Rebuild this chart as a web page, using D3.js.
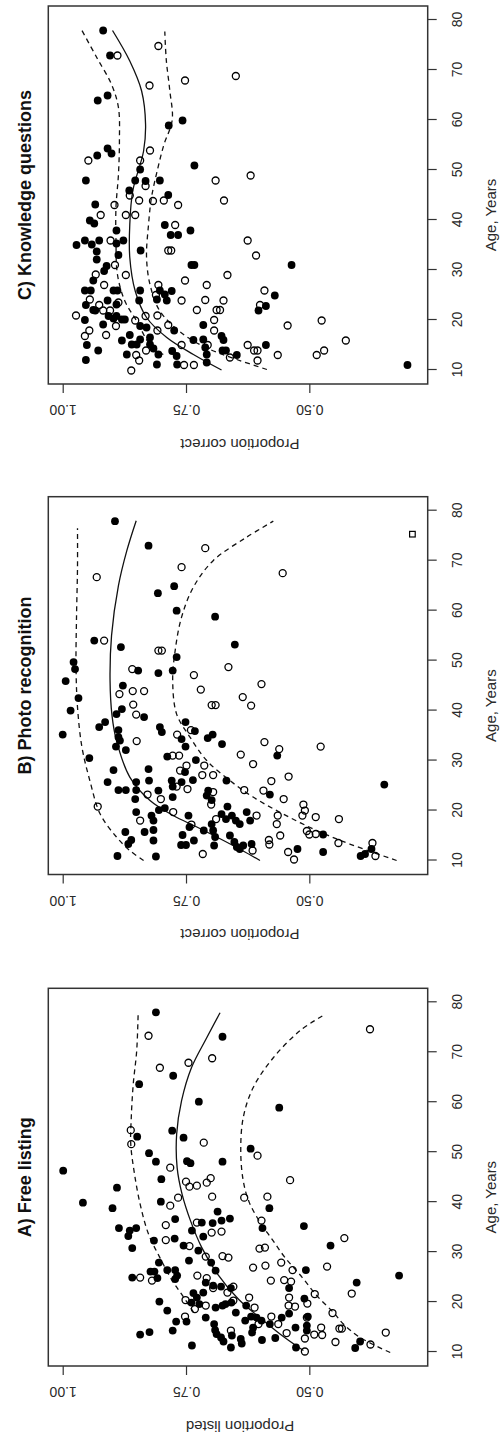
<!DOCTYPE html>
<html><head><meta charset="utf-8">
<script src="https://cdn.jsdelivr.net/npm/d3@7"></script>
<style>body{margin:0;background:#fff;} svg{display:block;} text{font-family:"Liberation Sans",Arial,sans-serif;}</style>
</head><body><svg id="chart" width="502" height="1440"></svg>
<script>
// ---------- shared axes ----------
const ageTicks = [10,20,30,40,50,60,70,80];
const propTicks = [0.50,0.75,1.00];
const titles = ["C) Knowledge questions","B) Photo recognition","A) Free listing"];
const yLabels = ["Proportion correct","Proportion correct","Proportion listed"];
const xLabel = "Age, Years";

// ---------- A) Free listing : [age, proportion] ----------
const freeFilled = [[78,.811],[73.1,.676],[65.3,.776],[63.6,.845],[60.1,.724],[58.9,.561],[54.3,.778],[53.1,.849],[52.9,.755],[50.7,.619],[49.8,.825],[48.1,.811],[48.2,.748],[47.8,.741],[48.1,.676],[46.3,.999],[44.6,.80],[42.9,.89],
[39.9,.959],[38.8,.899],[40.1,.801],[38.8,.581],[38.1,.686],[34.8,.886],[34.3,.864],[34.8,.851],[33.2,.867],[30.8,.859],[32.3,.815],[36.6,.772],[32.7,.773],[34.3,.738],[35.9,.718],[35.8,.696],[36.3,.678],[36.7,.661],[33.1,.715],[31.3,.755],[30.3,.725],[34.8,.595],[35.2,.511],[31.3,.457],[27.9,.699],[28.3,.744],[27.9,.805],[26.1,.814],[26.1,.822],[24.8,.808],[24.9,.859],[26.4,.788],[26.4,.772],[25.3,.768],[24.6,.772],[23.9,.710],[26.3,.690],[26.4,.507],[22.8,.541],[23.9,.404],[25.3,.318],[23.3,.695],[23.1,.679],[22.8,.659],[21.8,.735],[20.9,.728],[19.9,.739],[21.9,.715],[19.6,.723],[18.9,.690],[19.3,.676],[19.6,.670],[19.9,.658],[17.9,.649],[20.1,.804],[18.3,.788],[16.1,.770],[16.1,.749],[16.9,.710],[19.3,.628],[17.1,.618],[16.3,.630],[20.7,.510],[16.9,.556],[17.7,.541],[17.1,.503],[15.6,.693],[16.9,.607],[16.3,.597],[15.6,.580],[14.4,.691],[13.6,.688],[12.9,.679],[12.1,.674],[13.3,.657],[12.6,.639],[11.7,.637],[13.9,.616],[14.9,.614],[12.4,.596],[12.8,.569],[14.9,.528],[15.3,.505],[14.3,.505],[13.5,.843],[14,.824],[14.3,.777],[11.3,.738],[10.9,.659],[10.9,.527],[10.8,.407],[12.1,.397]];
const freeOpen = [[73.3,.826],[74.6,.377],[67.9,.745],[68.8,.697],[66.9,.803],[54.4,.862],[51.6,.861],[51.9,.714],[49.3,.605],[46.9,.782],[44.4,.539],[44.1,.75],[44.8,.70],[43.9,.708],[43.1,.743],[43.3,.728],
[39.3,.782],[40.9,.766],[41.1,.697],[40.9,.632],[41.1,.585],[35.4,.791],[32.4,.791],[35.9,.728],[33.9,.698],[34.1,.678],[31.2,.743],[36.3,.597],[32.8,.429],[30.7,.601],[30.9,.590],[29.1,.710],[29.2,.676],[28.9,.664],[24.3,.819],[24.9,.843],[25.3,.727],[24.8,.708],[26.9,.614],[27.3,.589],[27.9,.557],[26.4,.534],[27.1,.464],[24.3,.578],[24.4,.551],[24.1,.537],[21.7,.414],[22.8,.695],[23.1,.654],[21.9,.666],[20.4,.751],[18.6,.732],[19.3,.710],[20.3,.654],[17.1,.752],[20.9,.622],[18.9,.611],[20.9,.541],[19.3,.542],[19.1,.529],[19.7,.504],[21.6,.489],[17.1,.577],[16.9,.505],[17.8,.453],[15.6,.603],[15.6,.563],[14.3,.659],[13.8,.546],[12.7,.509],[13.5,.490],[13.4,.474],[14.9,.476],[14.7,.439],[14.7,.434],[12,.447],[10.1,.509],[11.5,.376],[13.9,.345]];
const freeMid = [[10.3,.512],[12.9,.550],[16.3,.593],[20.5,.643],[25.6,.686],[30.9,.718],[36.3,.741],[41.6,.758],[46.9,.768],[53.6,.769],[60.3,.759],[66.9,.739],[72.9,.708],[77.9,.681]];
const freeHigh = [[18,.735],[21.6,.759],[24.3,.778],[28.9,.803],[33.6,.826],[39.6,.843],[46,.855],[51.6,.862],[56.9,.861],[63.6,.857],[70.3,.850],[77.9,.847]];
const freeLow = [[9.9,.336],[12.9,.397],[15.6,.431],[17.9,.451],[21.3,.485],[25,.515],[29,.55],[32.5,.575],[36,.600],[40,.622],[44.3,.634],[50.3,.639],[56.9,.634],[62.9,.614],[68.9,.573],[74.3,.519],[77.6,.468]];

// ---------- B) Photo recognition ----------
const photoFilled = [[77.9,.894],[73,.826],[63.5,.807],[64.9,.774],[60,.769],[58.8,.691],[54,.936],[52.7,.882],[53.2,.651],[50.7,.769],[49.7,.978],[48.3,.975],[48,.847],[47.5,.806],[48,.777],[45.9,.994],[45,.878],[42.5,.968],
[40,.984],[35.2,1.0],[38.7,.835],[39.3,.891],[40.3,.880],[36.7,.926],[37.7,.914],[36.1,.887],[34.7,.887],[34,.884],[32.8,.892],[32.1,.872],[30.5,.946],[36.7,.803],[35.7,.799],[34.3,.759],[32.8,.751],[37.7,.751],[35.9,.732],[34.5,.706],[35.2,.696],[33.3,.677],[31,.565],[30.8,.788],[30.1,.730],[27.7,.752],[28.1,.897],[25.7,.909],[24.1,.887],[24.1,.872],[25.7,.851],[24.1,.851],[28.3,.826],[26,.825],[24,.806],[26,.779],[24.8,.777],[25.7,.759],[26.1,.736],[22.7,.777],[24,.705],[23,.708],[22.1,.698],[26,.668],[23.2,.580],[22.3,.853],[19.7,.851],[19,.820],[18,.816],[20.1,.805],[20.5,.793],[20.8,.666],[19.3,.678],[18.3,.669],[19,.657],[18,.649],[17.3,.641],[19.7,.627],[18,.620],[19,.745],[16.7,.743],[16,.714],[17.3,.698],[16,.695],[14.7,.691],[13,.693],[15.2,.472],[15.7,.873],[14.1,.861],[13.3,.867],[15.7,.834],[16.1,.816],[14,.816],[15.1,.757],[14,.734],[13.1,.760],[13.1,.750],[15,.661],[13.7,.652],[12.7,.647],[12.3,.641],[13,.634],[13.3,.617],[12.3,.524],[11.7,.472],[10.9,.889],[10.8,.811],[10.9,.396],[11.3,.387],[12.3,.374],[25.2,.348]];
const photoOpen = [[72.5,.711],[68.7,.759],[66.7,.931],[67.5,.554],[54,.916],[52,.806],[52,.799],[48.7,.664],[48.3,.859],[47.1,.734],[43.3,.885],[43.9,.858],[43.9,.835],[44.2,.720],[45.3,.597],[42.7,.635],
[41.2,.857],[39.2,.851],[33.9,.850],[35.2,.768],[36.1,.740],[41.1,.698],[41.1,.690],[41,.618],[33.7,.591],[32.3,.561],[32.8,.477],[31.2,.639],[29.3,.614],[31,.777],[31,.764],[28,.762],[29,.749],[29,.713],[27.1,.717],[27.1,.695],[24.8,.769],[24.3,.747],[23.2,.828],[22.3,.801],[23.7,.695],[21.2,.699],[26.8,.542],[25.9,.577],[24.1,.632],[24,.593],[22.3,.552],[21.2,.512],[20,.509],[19,.514],[18.7,.487],[18.3,.440],[20.8,.929],[18,.843],[19.7,.776],[18.3,.689],[19,.607],[17.2,.739],[19,.564],[17.3,.566],[15,.559],[15.9,.505],[15.2,.500],[15.3,.487],[13.5,.441],[12,.615],[14.1,.582],[13.2,.581],[11.7,.543],[10.2,.531],[11.3,.716],[13.5,.372],[10.9,.366]];
const photoSquare = [[75.3,.291]];
const photoMid = [[10,.60],[12,.636],[14,.674],[16.7,.728],[19,.776],[22,.823],[26.7,.864],[34,.891],[39,.900],[46,.904],[55,.901],[65,.887],[72,.870],[78,.851]];
const photoHigh = [[10,.836],[12,.864],[14.7,.891],[19.3,.924],[26,.945],[32.7,.961],[40.7,.970],[48.7,.973],[58.7,.972],[68.7,.970],[76.5,.970]];
const photoLow = [[10,.323],[13.3,.418],[16,.485],[19.3,.553],[22.7,.614],[26,.661],[30,.708],[34.7,.742],[39.3,.769],[46,.777],[52,.772],[58.7,.759],[64.7,.735],[70,.695],[74.7,.627],[77.9,.573]];

// ---------- C) Knowledge questions ----------
const knowFilled = [[77.9,.918],[72.9,.904],[63.9,.929],[64.9,.909],[59.9,.757],[58.9,.785],[52.9,.930],[54.3,.909],[53.3,.901],[50.9,.733],[50.1,.843],[47.9,.953],[47.9,.853],[47.8,.832],[47.9,.803],[45.9,.865],[45,.786],[43.1,.934],
[39.9,.945],[39.3,.936],[37.9,.891],[39,.793],[37,.781],[37,.766],[37.9,.741],[35,.972],[35.9,.955],[35.1,.941],[35.9,.926],[35.3,.891],[33.7,.931],[32.1,.931],[35.9,.877],[33,.887],[33.9,.842],[30.8,.911],[29.8,.916],[31,.739],[31,.733],[31,.536],[27.9,.938],[25.9,.955],[25.9,.943],[23,.953],[21.9,.934],[23.9,.909],[25.9,.897],[25.9,.889],[23.1,.891],[25.9,.843],[23.9,.845],[25.9,.803],[25.1,.793],[25.8,.779],[23.9,.789],[24.1,.809],[24.9,.570],[21.9,.603],[22.8,.588],[20,.955],[22,.938],[20.8,.907],[20.3,.897],[20.8,.891],[20.1,.880],[19.1,.918],[20.1,.874],[18.8,.843],[18.5,.830],[16.5,.823],[17.9,.774],[19,.715],[16.8,.678],[16,.674],[15.9,.880],[17,.864],[15.1,.860],[15.1,.850],[16.1,.843],[15.1,.823],[14.3,.816],[13.1,.806],[11.1,.809],[13.8,.778],[12.8,.769],[11.1,.768],[16,.735],[16.1,.715],[14.5,.711],[13.1,.708],[11.5,.708],[13.9,.676],[13.9,.669],[13,.647],[15,.588],[11,.301],[15,.951],[13.9,.928],[12,.953],[13.1,.870]];
const knowOpen = [[72.9,.889],[74.8,.806],[68.8,.649],[67.9,.752],[66.9,.824],[53.9,.823],[51.9,.948],[51.9,.843],[48.9,.619],[46.8,.832],[47.9,.690],[44.9,.864],[43.9,.845],[43.8,.817],[43.9,.795],[43,.766],[43.9,.673],[43,.895],
[41,.923],[41,.872],[41,.853],[39,.772],[35.9,.625],[35.9,.903],[33.9,.786],[33.9,.780],[32.9,.608],[31,.894],[29,.872],[29.1,.933],[27,.916],[29,.666],[27.9,.752],[27,.708],[24.1,.945],[23,.926],[23.5,.887],[27,.806],[25,.811],[23.9,.759],[24,.711],[23.9,.674],[25.9,.591],[22,.728],[22,.688],[22,.681],[23,.600],[20.9,.973],[21.9,.918],[21.9,.904],[18.8,.892],[19.9,.853],[20.8,.832],[20.9,.808],[17.9,.808],[19,.786],[20,.693],[18.9,.544],[19.9,.475],[17.9,.693],[17.9,.946],[16.8,.955],[17,.912],[13.9,.831],[15,.759],[11,.754],[15,.706],[11,.734],[12.5,.661],[15,.625],[13.9,.612],[13.9,.605],[11.9,.605],[13,.564],[13,.485],[13.9,.470],[15.9,.426],[13,.851],[11.9,.845],[9.9,.861]];
const knowMid = [[10,.678],[13.1,.735],[16.5,.789],[20.5,.830],[25.8,.853],[32.5,.864],[39.1,.864],[45.8,.858],[53.8,.836],[59.1,.832],[65.8,.840],[71.8,.864],[77.9,.899]];
const knowHigh = [[13.1,.796],[15.1,.823],[19.8,.850],[23.8,.874],[29.1,.889],[35.8,.892],[42.5,.892],[49.1,.887],[55.8,.885],[62.5,.887],[67.1,.901],[72.5,.931],[77.9,.961]];
const knowLow = [[10.1,.586],[12.1,.647],[14.1,.701],[17.1,.755],[21.8,.803],[27.1,.823],[32.5,.830],[39.1,.826],[44.5,.820],[50,.808],[55,.795],[60,.778],[66,.783],[72,.790],[77.7,.793]];

// ---------- drawing ----------
const panels = [
  {title:titles[0], ylab:yLabels[0], filled:knowFilled, open:knowOpen, squares:[], mid:knowMid, hi:knowHigh, lo:knowLow, top:6, bottom:384},
  {title:titles[1], ylab:yLabels[1], filled:photoFilled, open:photoOpen, squares:photoSquare, mid:photoMid, hi:photoHigh, lo:photoLow, top:496.7, bottom:874.5},
  {title:titles[2], ylab:yLabels[2], filled:freeFilled, open:freeOpen, squares:[], mid:freeMid, hi:freeHigh, lo:freeLow, top:988.3, bottom:1366}
];
const svg = d3.select("#chart");
const boxLeft = 48.3, boxRight = 427.7;
const W = boxRight - boxLeft;
const ink = "#2a2a2a";

panels.forEach(P => {
  const H = P.bottom - P.top;
  const age = d3.scaleLinear().domain([7.2, 82.8]).range([0, H]);
  const prop = d3.scaleLinear().domain([1.0292, 0.26]).range([0, W]);
  // local frame: x = age, y = proportion; rotated -90deg onto the page
  const g = svg.append("g").attr("transform", `translate(${boxLeft},${P.bottom}) rotate(-90)`);

  // age axis (local bottom -> page right)
  const ax = g.append("g").attr("transform", `translate(0,${W})`)
    .call(d3.axisBottom(age).tickValues(ageTicks).tickSize(9).tickSizeOuter(0));
  ax.select(".domain").remove();
  ax.selectAll("line").attr("stroke", "#333").attr("stroke-width", 1.2);
  ax.selectAll("text").attr("y", 29).attr("dy", "0.35em").attr("font-size", 14)
    .attr("font-family", "Liberation Sans, Arial, sans-serif").attr("fill", ink);

  // proportion axis (local left -> page bottom)
  const ay = g.append("g")
    .call(d3.axisLeft(prop).tickValues(propTicks).tickFormat(d3.format(".2f")).tickSize(9).tickSizeOuter(0));
  ay.select(".domain").remove();
  ay.selectAll("line").attr("stroke", "#333").attr("stroke-width", 1.2);
  ay.selectAll("text").attr("x", null).attr("dy", null)
    .attr("transform", "translate(-26,0) rotate(-90)")
    .attr("text-anchor", "middle").attr("dominant-baseline", "central")
    .attr("font-size", 14).attr("font-family", "Liberation Sans, Arial, sans-serif").attr("fill", ink);

  // curves
  const line = d3.line().x(d => age(d[0])).y(d => prop(d[1])).curve(d3.curveCatmullRom);
  g.append("path").attr("d", line(P.mid)).attr("fill", "none").attr("stroke", "#111").attr("stroke-width", 1.3);
  [P.hi, P.lo].forEach(c => g.append("path").attr("d", line(c)).attr("fill", "none")
    .attr("stroke", "#111").attr("stroke-width", 1.3).attr("stroke-dasharray", "5,4"));

  // points
  g.append("g").selectAll("circle").data(P.open).join("circle")
    .attr("cx", d => age(d[0])).attr("cy", d => prop(d[1])).attr("r", 3.5)
    .attr("fill", "none").attr("stroke", "#000").attr("stroke-width", 1.3);
  g.append("g").selectAll("circle").data(P.filled).join("circle")
    .attr("cx", d => age(d[0])).attr("cy", d => prop(d[1])).attr("r", 3.9)
    .attr("fill", "#000");
  g.append("g").selectAll("rect").data(P.squares).join("rect")
    .attr("x", d => age(d[0]) - 2.8).attr("y", d => prop(d[1]) - 2.8).attr("width", 5.6).attr("height", 5.6)
    .attr("fill", "none").attr("stroke", "#000").attr("stroke-width", 1.2);

  // box
  g.append("rect").attr("x", 0).attr("y", 0).attr("width", H).attr("height", W)
    .attr("fill", "none").attr("stroke", "#333").attr("stroke-width", 1.5);

  // labels
  g.append("text").attr("x", H / 2).attr("y", 25 - boxLeft).attr("text-anchor", "middle")
    .attr("dominant-baseline", "central").attr("font-size", 18).attr("font-weight", "bold")
    .attr("fill", "#111").text(P.title);
  g.append("text").attr("x", H / 2 - 20).attr("y", 491 - boxLeft).attr("text-anchor", "middle")
    .attr("dominant-baseline", "central").attr("font-size", 15).attr("fill", ink).text(xLabel);
  g.append("text").attr("transform", `translate(-60,${W / 2 + 2}) rotate(-90)`).attr("text-anchor", "middle")
    .attr("dominant-baseline", "central").attr("font-size", 15).attr("fill", ink).text(P.ylab);
});
</script>
</body></html>
